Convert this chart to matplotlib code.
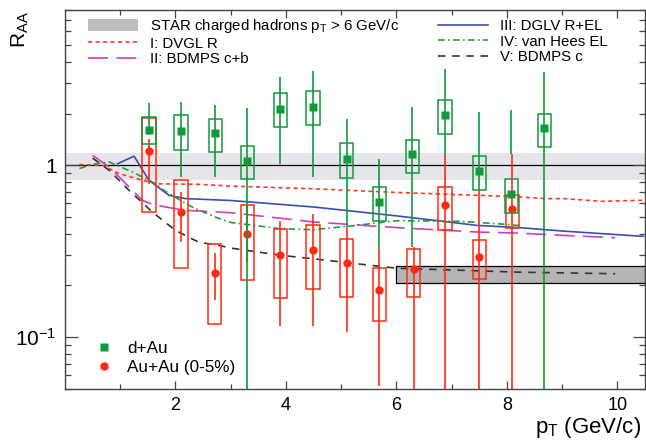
import matplotlib
matplotlib.use("Agg")
import numpy as np
import matplotlib.pyplot as plt
from matplotlib.patches import Rectangle, Patch
from matplotlib.lines import Line2D
from matplotlib.ticker import FixedLocator, NullFormatter

plt.rcParams["font.family"] = ["Liberation Sans", "DejaVu Sans"]
plt.rcParams["mathtext.fontset"] = "custom"
plt.rcParams["mathtext.rm"] = "Liberation Sans"
plt.rcParams["mathtext.it"] = "Liberation Sans:italic"

# --- d+Au points (value, stat. error bar ends, syst. box ends) ---
dau_pt = [1.52, 2.10, 2.72, 3.30, 3.90, 4.49, 5.10, 5.69, 6.29, 6.88, 7.50, 8.08, 8.68]
dau_raa = [1.60, 1.59, 1.54, 1.055, 2.13, 2.19, 1.094, 0.611, 1.16, 1.95, 0.925, 0.684, 1.65]
dau_stat_hi = [2.31, 2.34, 2.24, 2.14, 3.24, 3.53, 1.87, 1.094, 2.17, 3.61, 2.04, 2.11, 3.49]
dau_stat_lo = [1.50, 0.85, 0.855, 0.02, 1.02, 0.855, 0.437, 0.327, 0.335, 1.14, 0.73, 1.17, 0.02]
dau_sys_hi = [1.91, 1.95, 1.87, 1.29, 2.62, 2.70, 1.34, 0.748, 1.41, 2.39, 1.13, 0.836, 2.00]
dau_sys_lo = [1.33, 1.22, 1.19, 0.83, 1.66, 1.71, 0.848, 0.474, 0.902, 1.52, 0.722, 0.527, 1.28]

# --- Au+Au 0-5% points ---
auau_pt = [1.52, 2.10, 2.71, 3.30, 3.90, 4.49, 5.10, 5.69, 6.31, 6.88, 7.50, 8.10]
auau_raa = [1.21, 0.535, 0.236, 0.40, 0.30, 0.32, 0.27, 0.189, 0.25, 0.585, 0.292, 0.554]
auau_stat_hi = [1.43, 0.699, 0.308, 0.58, 0.476, 0.521, 0.437, 0.327, 0.335, 1.14, 0.73, 1.17]
auau_stat_lo = [0.78, 0.357, 0.164, 0.273, 0.117, 0.117, 0.107, 0.052, 0.02, 0.02, 0.02, 0.02]
auau_sys_hi = [1.89, 0.818, 0.35, 0.585, 0.428, 0.447, 0.371, 0.254, 0.324, 0.748, 0.366, 0.675]
auau_sys_lo = [0.535, 0.254, 0.1186, 0.216, 0.169, 0.191, 0.171, 0.124, 0.171, 0.422, 0.219, 0.434]

# --- model curves ---
dvgl_r_pt = [0.26, 0.68, 0.98, 1.40, 1.70, 2.42, 3.0, 4.5, 6.0, 7.46, 8.2, 8.7, 9.03, 9.71, 10.47]
dvgl_r = [1.01, 1.0, 0.895, 0.818, 0.78, 0.775, 0.757, 0.73, 0.695, 0.669, 0.655, 0.64, 0.64, 0.617, 0.626]

dglv_rel_pt = [0.95, 1.25, 1.52, 1.88, 2.18, 3.0, 4.5, 6.0, 7.46, 8.22, 9.03, 10.47]
dglv_rel = [1.02, 1.13, 0.818, 0.669, 0.64, 0.624, 0.572, 0.508, 0.447, 0.434, 0.414, 0.386]

bdmps_cb_pt = [0.50, 0.80, 0.98, 1.40, 1.58, 1.82, 2.18, 3.0, 4.5, 6.0, 7.46, 8.22, 9.03, 9.96]
bdmps_cb = [1.14, 0.977, 0.855, 0.626, 0.593, 0.572, 0.547, 0.53, 0.468, 0.434, 0.409, 0.403, 0.391, 0.379]

vanhees_pt = [0.26, 0.50, 0.80, 1.22, 1.58, 1.88, 2.30, 2.72, 3.0, 3.89, 4.49, 5.27, 6.0, 7.16, 8.01, 8.25]
vanhees = [0.957, 1.013, 1.045, 0.914, 0.80, 0.684, 0.572, 0.50, 0.465, 0.428, 0.422, 0.447, 0.476, 0.472, 0.453, 0.445]

bdmps_c_pt = [0.50, 0.80, 1.16, 1.58, 2.0, 2.42, 2.78, 3.0, 3.89, 4.49, 5.39, 6.0, 8.22, 9.96]
bdmps_c = [1.10, 0.935, 0.715, 0.535, 0.418, 0.357, 0.342, 0.33, 0.30, 0.286, 0.265, 0.252, 0.239, 0.234]

# STAR charged hadrons band (pT > 6) and normalisation band around 1
star_pt_min = 6.0
star_lo, star_hi = 0.206, 0.258
norm_lo, norm_hi = 0.82, 1.18

GREEN = "#109a3c"
RED = "#ff2a12"
BOX_HW = 0.12

fig = plt.figure(figsize=(6.46, 4.44), dpi=100)
ax = fig.add_axes([0.1006, 0.1239, 0.8979, 0.8536])
ax.set_xlim(0, 10.5)
ax.set_yscale("log")
ax.set_ylim(0.05, 8)

ax.axhspan(norm_lo, norm_hi, color="#e6e6ea", lw=0, zorder=0)
ax.axhline(1, color="black", lw=0.9, zorder=1)
ax.add_patch(Rectangle((star_pt_min, star_lo), 10.5 - star_pt_min, star_hi - star_lo,
                       facecolor="#b5b5b5", edgecolor="black", lw=0.9, zorder=1))

ax.plot(dvgl_r_pt, dvgl_r, color="#ff3a24", lw=1.2, dashes=(2.5, 2.0), zorder=2)
ax.plot(dglv_rel_pt, dglv_rel, color="#3a4fb0", lw=1.2, zorder=2)
ax.plot(bdmps_cb_pt, bdmps_cb, color="#d040b8", lw=1.2, dashes=(12, 5), zorder=2)
ax.plot(vanhees_pt, vanhees, color="#1f9e3c", lw=1.2, dashes=(4, 2, 1, 2), zorder=2)
ax.plot(bdmps_c_pt, bdmps_c, color="#333333", lw=1.2, dashes=(4.5, 4), zorder=2)

# Au+Au: systematic boxes, stat bars, points
for x, lo, hi in zip(auau_pt, auau_sys_lo, auau_sys_hi):
    ax.add_patch(Rectangle((x - BOX_HW, lo), 2 * BOX_HW, hi - lo, fill=False,
                           edgecolor=RED, lw=1.1, zorder=3))
ax.vlines(auau_pt, auau_stat_lo, auau_stat_hi, color=RED, lw=1.2, zorder=3)
ax.plot(auau_pt, auau_raa, "o", color=RED, ms=6, mec="none", zorder=3.5)

# d+Au drawn on top
for x, lo, hi in zip(dau_pt, dau_sys_lo, dau_sys_hi):
    ax.add_patch(Rectangle((x - BOX_HW, lo), 2 * BOX_HW, hi - lo, fill=False,
                           edgecolor=GREEN, lw=1.1, zorder=4))
ax.vlines(dau_pt, dau_stat_lo, dau_stat_hi, color=GREEN, lw=1.2, zorder=4)
ax.plot(dau_pt, dau_raa, "s", color=GREEN, ms=5.5, mec="none", zorder=4.5)

# axes ticks
ax.xaxis.set_major_locator(FixedLocator([2, 4, 6, 8, 10]))
ax.xaxis.set_minor_locator(FixedLocator([1, 3, 5, 7, 9]))
ax.set_yticks([0.1, 1], labels=["10$^{-1}$", "1"])
ax.yaxis.set_minor_locator(FixedLocator(
    [0.05, 0.06, 0.07, 0.08, 0.09] + [0.2 + 0.1 * i for i in range(8)] + [2, 3, 4, 5, 6, 7, 8]))
ax.yaxis.set_minor_formatter(NullFormatter())
ax.tick_params(which="both", direction="in", top=True, right=True, width=0.9, color="#444444")
ax.tick_params(axis="x", which="major", length=6, labelsize=13, pad=6)
ax.tick_params(axis="x", which="minor", length=3.5)
ax.tick_params(axis="y", which="major", length=9, labelsize=15, pad=6)
ax.tick_params(axis="y", which="minor", length=4)
for s in ax.spines.values():
    s.set_linewidth(1.0)
    s.set_color("#444444")

fig.text(0.015, 0.975, r"R$_{\rm AA}$", rotation=90, ha="left", va="top", fontsize=15)
fig.text(0.993, 0.025, r"p$_{\rm T}$ (GeV/c)", ha="right", va="baseline", fontsize=16)

# model legend
model_handles = [
    Patch(facecolor="#bdbdbd", edgecolor="none"),
    Line2D([], [], color="#ff3a24", lw=1.2, dashes=(2.5, 2.0)),
    Line2D([], [], color="#d040b8", lw=1.2, dashes=(12, 5)),
    Line2D([], [], color="#3a4fb0", lw=1.2),
    Line2D([], [], color="#1f9e3c", lw=1.2, dashes=(4, 2, 1, 2)),
    Line2D([], [], color="#333333", lw=1.2, dashes=(4.5, 4)),
]
model_labels = [
    r"STAR charged hadrons p$_{\rm T}$ > 6 GeV/c",
    "I: DVGL R",
    "II: BDMPS c+b",
    "III: DGLV R+EL",
    "IV: van Hees EL",
    "V: BDMPS c",
]
leg1 = ax.legend(model_handles, model_labels, ncol=2, loc="upper left",
                 bbox_to_anchor=(0.03, 0.997), frameon=False, fontsize=10.8,
                 handlelength=3.3, handleheight=0.85, handletextpad=0.8,
                 labelspacing=0.1, columnspacing=2.6, borderaxespad=0)
ax.add_artist(leg1)

data_handles = [
    Line2D([], [], marker="s", color=GREEN, ls="none", ms=5.5, mec="none"),
    Line2D([], [], marker="o", color=RED, ls="none", ms=6, mec="none"),
]
leg2 = ax.legend(data_handles, ["d+Au", "Au+Au (0-5%)"], loc="lower left",
                 bbox_to_anchor=(0.04, 0.02), frameon=True, fontsize=12.3,
                 handlelength=1.0, handletextpad=0.9, labelspacing=0.2,
                 borderaxespad=0)
leg2.get_frame().set_edgecolor("none")
leg2.get_frame().set_facecolor("white")
leg2.get_frame().set_alpha(1)
leg2.set_zorder(6)

fig.savefig("out.png", dpi=100)
